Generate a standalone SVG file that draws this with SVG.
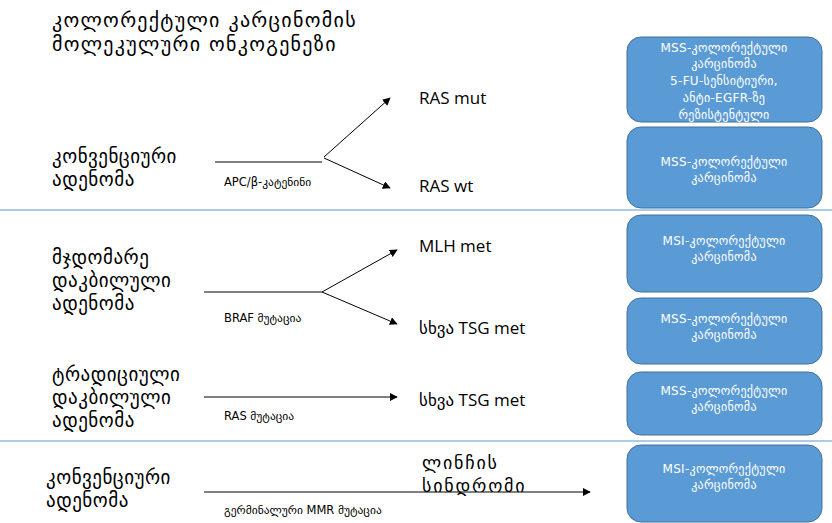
<svg xmlns="http://www.w3.org/2000/svg" width="832" height="523" viewBox="0 0 832 523">
<style>
.t{font-family:"DejaVu Sans","Noto Sans",sans-serif;fill:#000}
.title{font-size:20px;letter-spacing:1.3px}
.lbl{font-size:19px;letter-spacing:0.5px}
.ly{font-size:18px;letter-spacing:1.8px}
.sm{font-size:11.5px}
.res{font-family:"Open Sans","DejaVu Sans",sans-serif;font-size:17px;fill:#000}
.box rect{fill:#5b9bd5;stroke:#41719c;stroke-width:1}
.box text{font-family:"DejaVu Sans","Noto Sans",sans-serif;font-size:12px;letter-spacing:0.3px;fill:#fff;text-anchor:middle}
.ln{stroke:#000;stroke-width:1;fill:none}
.sep{stroke:#5b9bd5;stroke-width:1.2}
</style>
<defs>
<marker id="ah" viewBox="0 0 10 10" refX="9" refY="5" markerWidth="8" markerHeight="8" markerUnits="userSpaceOnUse" orient="auto">
<path d="M0,0 L10,5 L0,10 z" fill="#000"/>
</marker>
</defs>
<rect width="832" height="523" fill="#fff"/>
<g id="title">
<text class="t title" x="52" y="27">კოლორექტული კარცინომის</text>
<text class="t title" x="52" y="51">მოლეკულური ონკოგენეზი</text>
</g>
<line class="sep" x1="0" y1="210" x2="832" y2="210"/>
<line class="sep" x1="0" y1="441" x2="832" y2="441"/>
<g id="connectors">
<line class="ln" x1="215" y1="162" x2="322" y2="162"/>
<line class="ln" x1="324" y1="157" x2="390" y2="98" marker-end="url(#ah)"/>
<line class="ln" x1="324" y1="158" x2="390" y2="188" marker-end="url(#ah)"/>
<line class="ln" x1="204" y1="292" x2="322" y2="292"/>
<line class="ln" x1="322" y1="292" x2="397" y2="250" marker-end="url(#ah)"/>
<line class="ln" x1="322" y1="292" x2="397" y2="324" marker-end="url(#ah)"/>
<line class="ln" x1="204" y1="397" x2="397" y2="397" marker-end="url(#ah)"/>
<line class="ln" x1="204" y1="492" x2="590" y2="492" marker-end="url(#ah)"/>
<text class="t sm" x="224" y="186">APC/β-კატენინი</text>
<text class="t sm" x="224" y="322">BRAF მუტაცია</text>
<text class="t sm" x="224" y="420">RAS მუტაცია</text>
<text class="t sm" x="224" y="514">გერმინალური MMR მუტაცია</text>
</g>
<g id="src1"><text class="t lbl" x="52" y="163">კონვენციური</text><text class="t lbl" x="52" y="186">ადენომა</text></g>
<g id="src2"><text class="t lbl" x="52" y="264">მჯდომარე</text><text class="t lbl" x="52" y="287">დაკბილული</text><text class="t lbl" x="52" y="310">ადენომა</text></g>
<g id="src3"><text class="t lbl" x="52" y="381">ტრადიციული</text><text class="t lbl" x="52" y="404">დაკბილული</text><text class="t lbl" x="52" y="427">ადენომა</text></g>
<g id="src4"><text class="t lbl" x="46" y="484">კონვენციური</text><text class="t lbl" x="46" y="507">ადენომა</text></g>
<g id="rasmut"><text class="res" x="419" y="104">RAS mut</text></g>
<g id="raswt"><text class="res" x="419" y="192">RAS wt</text></g>
<g id="mlh"><text class="res" x="419" y="252">MLH met</text></g>
<g id="tsg1"><text class="res" x="419" y="334">სხვა TSG met</text></g>
<g id="tsg2"><text class="res" x="419" y="406">სხვა TSG met</text></g>
<g id="lynch"><text class="t ly" x="422" y="469">ლინჩის</text><text class="t ly" x="422" y="492">სინდრომი</text></g>
<g id="box1" class="box"><rect x="627" y="37" width="195" height="85" rx="14"/>
<text x="724" y="52">MSS-კოლორექტული</text><text x="724" y="68">კარცინომა</text><text x="724" y="85">5-FU-სენსიტიური,</text><text x="724" y="102">ანტი-EGFR-ზე</text><text x="724" y="119">რეზისტენტული</text></g>
<g id="box2" class="box"><rect x="627" y="127" width="195" height="81" rx="14"/>
<text x="724" y="166">MSS-კოლორექტული</text><text x="724" y="182">კარცინომა</text></g>
<g id="box3" class="box"><rect x="627" y="215" width="195" height="77" rx="14"/>
<text x="724" y="245">MSI-კოლორექტული</text><text x="724" y="261">კარცინომა</text></g>
<g id="box4" class="box"><rect x="627" y="298" width="195" height="66" rx="14"/>
<text x="724" y="323">MSS-კოლორექტული</text><text x="724" y="339">კარცინომა</text></g>
<g id="box5" class="box"><rect x="627" y="372" width="195" height="63" rx="14"/>
<text x="724" y="395">MSS-კოლორექტული</text><text x="724" y="411">კარცინომა</text></g>
<g id="box6" class="box"><rect x="627" y="445" width="195" height="77" rx="14"/>
<text x="724" y="473">MSI-კოლორექტული</text><text x="724" y="489">კარცინომა</text></g>
</svg>
